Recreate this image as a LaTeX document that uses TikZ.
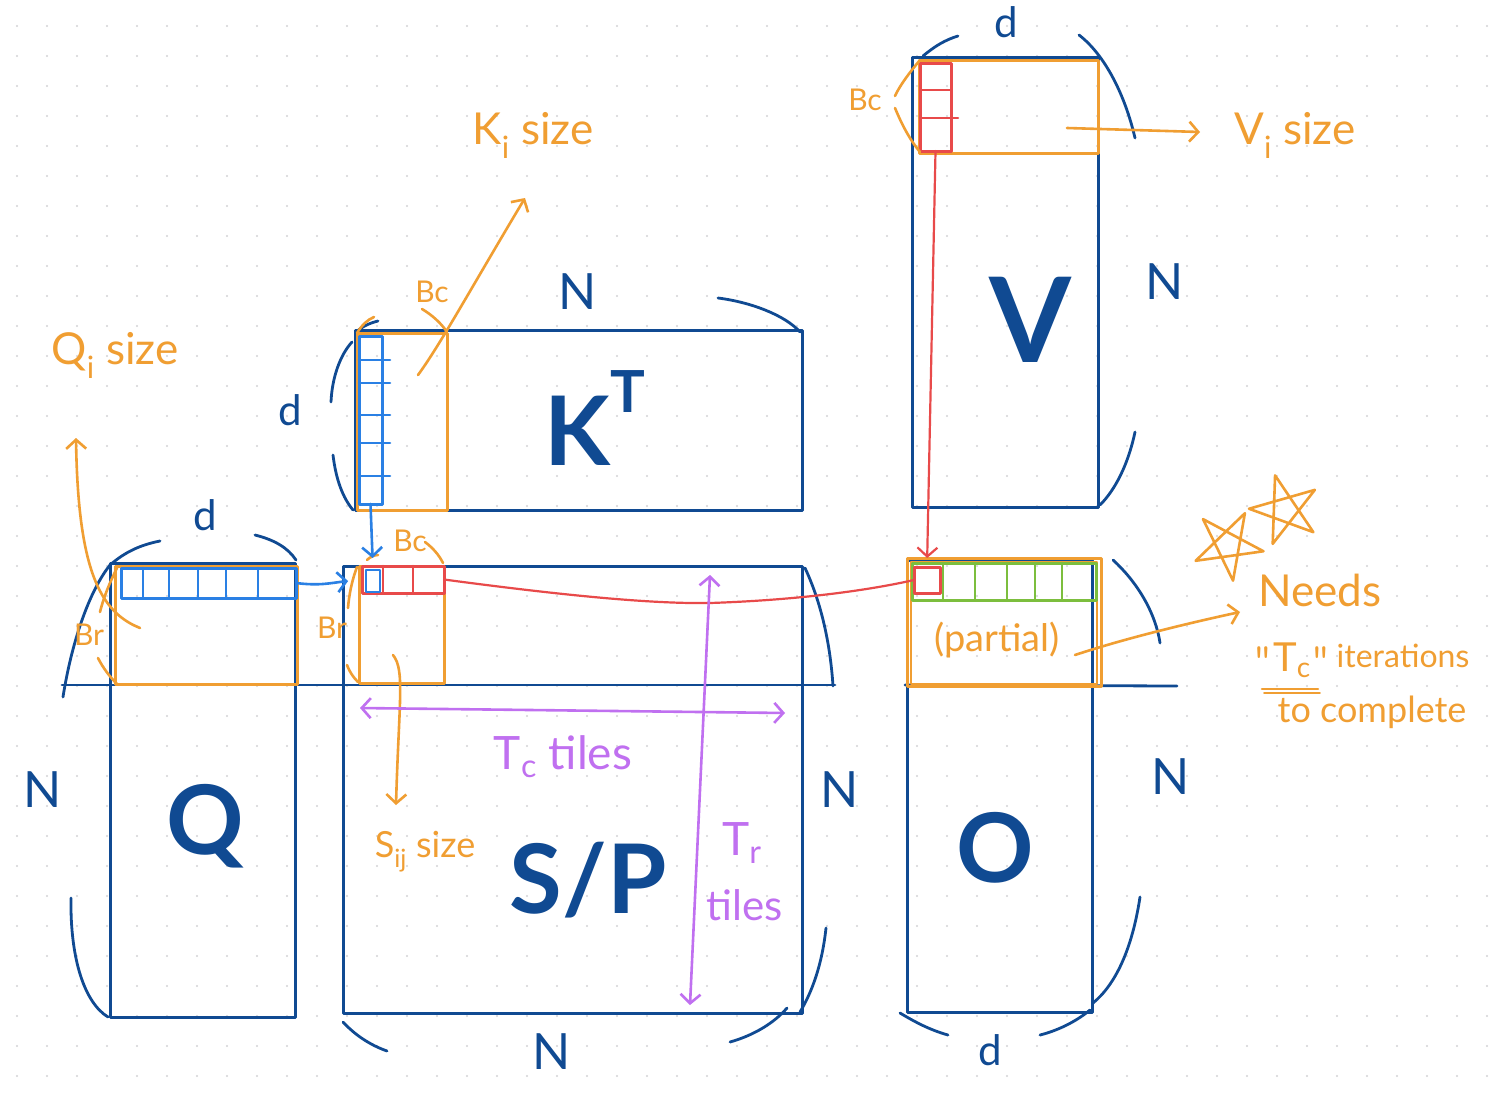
\documentclass[tikz,border=0pt]{standalone}
\usepackage{fontspec}
\setmainfont{Lato}
\usetikzlibrary{arrows.meta}
\definecolor{dblue}{RGB}{16,74,146}
\definecolor{orng}{RGB}{240,158,50}
\definecolor{bblue}{RGB}{42,128,228}
\definecolor{rred}{RGB}{232,74,74}
\definecolor{ggreen}{RGB}{124,190,62}
\definecolor{ppurple}{RGB}{192,112,240}
\definecolor{dotgray}{RGB}{210,210,214}
\begin{document}
\begin{tikzpicture}[x=1pt,y=-1pt,line cap=round,line join=round,
  box/.style={rectangle,inner sep=0pt,outer sep=0pt,anchor=north west,line width=3pt},
  mat/.style={box,draw=dblue},
  obox/.style={box,draw=orng},
  bstrip/.style={box,draw=bblue},
  rstrip/.style={box,draw=rred},
  gstrip/.style={box,draw=ggreen},
  dline/.style={draw=dblue,line width=2.8pt},
  oline/.style={draw=orng,line width=2.6pt},
  bline/.style={draw=bblue,line width=2.6pt},
  rline/.style={draw=rred,line width=2.2pt},
  gline/.style={draw=ggreen,line width=2.6pt},
  pline/.style={draw=ppurple,line width=2.6pt},
  barb/.style={-{Straight Barb[length=9pt,width=20pt]}},
  dbarb/.style={{Straight Barb[length=9pt,width=20pt]}-{Straight Barb[length=9pt,width=20pt]}},
  olabel/.style={text=orng,inner sep=0pt,font=\fontsize{44}{50}\selectfont},
  osmall/.style={text=orng,inner sep=0pt,font=\fontsize{30}{34}\selectfont},
  plabel/.style={text=ppurple,inner sep=0pt,font=\fontsize{46}{50}\selectfont},
  dimlabel/.style={text=dblue,inner sep=0pt,font=\fontsize{50}{54}\selectfont},
  biglabel/.style={text=dblue,inner sep=0pt,font=\fontsize{96}{100}\selectfont\bfseries}
]
% background
\fill[white] (0,0) rectangle (1498,1092);
\useasboundingbox (0,0) rectangle (1498,1092);
\foreach \x in {17,47,...,1497} \foreach \y in {26,56,...,1090} \fill[dotgray] (\x,\y) circle (1.1pt);

% ---------- main matrices ----------
\node[mat,minimum width=185pt,minimum height=454pt] (Q) at (110,563) {};
\node[mat,minimum width=447pt,minimum height=180pt] (KT) at (355,330) {};
\node[mat,minimum width=459pt,minimum height=447pt] (SP) at (343,566) {};
\node[mat,minimum width=186pt,minimum height=450pt] (V) at (912,57) {};
\node[mat,minimum width=185pt,minimum height=452pt] (O) at (907,560) {};
\draw[dline] (62,685) -- (835,685);
\draw[dline] (905,685) -- (1177,686);

% ---------- orange block boxes ----------
\node[obox,minimum width=182pt,minimum height=118pt] (Qi) at (115,566) {};
\node[obox,minimum width=90pt,minimum height=177pt] (Ki) at (357,333) {};
\node[obox,minimum width=85pt,minimum height=117pt] (Sij) at (359,566) {};
\node[obox,minimum width=179pt,minimum height=93pt] (Vi) at (919,60) {};
\node[obox,minimum width=194pt,minimum height=128pt] (Opart) at (907,558) {};
\node[obox,minimum width=186pt,minimum height=122pt,line width=1.8pt] (Opart2) at (911,562) {};

% ---------- strips ----------
\node[bstrip,minimum width=175pt,minimum height=30pt] (qstrip) at (121,568) {};
\foreach \x in {143,169,198,226,258} \draw[bline] (\x,568) -- (\x,598);
\node[bstrip,minimum width=23pt,minimum height=168pt] (kstrip) at (359,336) {};
\foreach \y in {360,383,415,443,476} \draw[bline] (359,\y) -- (390,\y);
\node[rstrip,minimum width=82pt,minimum height=27pt] (sred) at (362,566) {};
\foreach \x in {383,413} \draw[rline,line width=2.6pt] (\x,566) -- (\x,593);
\node[bstrip,minimum width=14pt,minimum height=22pt,line width=2.6pt] (sblue) at (366,570) {};
\node[rstrip,minimum width=31pt,minimum height=88pt] (vred) at (920,63) {};
\draw[rline,line width=2.6pt] (920,90) -- (951,90);
\draw[rline,line width=2.6pt] (920,118) -- (958,118);
\node[gstrip,minimum width=184pt,minimum height=37pt] (ogreen) at (912,563) {};
\foreach \x in {943,975,1007,1035,1062} \draw[gline] (\x,563) -- (\x,600);
\node[rstrip,minimum width=26pt,minimum height=26pt] (ored) at (914,567) {};

% ---------- dimension brackets (dark blue) ----------
\draw[dline] (110,565) .. controls (125,552) and (140,545) .. (160,541);
\draw[dline] (255,535) .. controls (275,540) and (288,548) .. (296,560);
\draw[dline] (63,697) .. controls (72,640) and (90,590) .. (110,565);
\draw[dline] (71,898) .. controls (70,960) and (85,1003) .. (108,1017);
\draw[dline] (352,342) .. controls (340,355) and (332,378) .. (331,402);
\draw[dline] (333,455) .. controls (336,480) and (343,498) .. (353,510);
\draw[dline] (356,332) .. controls (363,326) and (370,323) .. (378,321);
\draw[dline] (718,298) .. controls (750,302) and (785,315) .. (800,332);
\draw[dline] (923,56) .. controls (935,46) and (945,40) .. (958,36);
\draw[dline] (1079,35) .. controls (1105,55) and (1125,95) .. (1135,138);
\draw[dline] (1135,432) .. controls (1128,465) and (1115,490) .. (1100,505);
\draw[dline] (1113,560) .. controls (1135,580) and (1155,610) .. (1160,643);
\draw[dline] (1140,897) .. controls (1132,950) and (1115,985) .. (1093,1003);
\draw[dline] (900,1013) .. controls (915,1022) and (930,1030) .. (948,1035);
\draw[dline] (1040,1035) .. controls (1060,1030) and (1078,1020) .. (1090,1010);
\draw[dline] (805,568) .. controls (820,600) and (830,640) .. (833,686);
\draw[dline] (826,928) .. controls (822,965) and (812,992) .. (800,1012);
\draw[dline] (343,1022) .. controls (355,1035) and (370,1045) .. (387,1051);
\draw[dline] (730,1042) .. controls (755,1035) and (775,1022) .. (787,1008);

\node[dimlabel] (nq) at (43,790) {N};
\node[dimlabel] (nk) at (578,292) {N};
\node[dimlabel] (nv) at (1165,282) {N};
\node[dimlabel] (ns) at (840,790) {N};
\node[dimlabel] (no) at (1171,777) {N};
\node[dimlabel] (nb) at (552,1052) {N};
\node[dimlabel,font=\fontsize{42}{46}\selectfont] (dq) at (205,515) {d};
\node[dimlabel,font=\fontsize{42}{46}\selectfont] (dk) at (290,410) {d};
\node[dimlabel,font=\fontsize{42}{46}\selectfont] (dv) at (1006,22) {d};
\node[dimlabel,font=\fontsize{42}{46}\selectfont] (do) at (990,1050) {d};

% ---------- orange brackets for Br / Bc ----------
\draw[oline] (117,568) .. controls (110,582) and (104,596) .. (100,612);
\draw[oline] (98,658) .. controls (103,668) and (110,677) .. (117,684);
\draw[oline] (357,567) .. controls (352,580) and (349,595) .. (348,608);
\draw[oline] (347,665) .. controls (350,673) and (354,678) .. (358,682);
\draw[oline] (367,560) .. controls (370,557) and (374,555) .. (378,555);
\draw[oline] (425,542) .. controls (433,548) and (439,555) .. (443,563);
\draw[oline] (357,333) .. controls (362,325) and (367,320) .. (374,317);
\draw[oline] (422,309) .. controls (432,315) and (441,323) .. (447,332);
\draw[oline] (920,60) .. controls (910,72) and (900,85) .. (895,96);
\draw[oline] (895,108) .. controls (902,125) and (910,140) .. (920,152);

\node[osmall] (bcK) at (432,292) {Bc};
\node[osmall] (bcS) at (410,541) {Bc};
\node[osmall] (bcV) at (865,100) {Bc};
\node[osmall] (brS) at (332,628) {Br};
\node[osmall] (brQ) at (89,635) {Br};

% ---------- labels ----------
\node[olabel] (kisize) at (533,135) {K\textsubscript{i} size};
\node[olabel] (qisize) at (115,355) {Q\textsubscript{i} size};
\node[olabel] (visize) at (1295,135) {V\textsubscript{i} size};
\node[olabel,font=\fontsize{36}{40}\selectfont] (sijsize) at (425,852) {S\textsubscript{ij} size};
\node[olabel,font=\fontsize{38}{42}\selectfont] (partial) at (997,640) {(partial)};
\node[olabel,font=\fontsize{44}{48}\selectfont] (needs) at (1320,590) {Needs};
\node[olabel,font=\fontsize{40}{44}\selectfont] (tcq) at (1292,660) {{\ttfamily "}T\textsubscript{c}{\ttfamily "}};
\node[olabel,font=\fontsize{32}{36}\selectfont] (iter) at (1403,656) {iterations};
\node[olabel,font=\fontsize{36}{40}\selectfont] (tocomp) at (1372,712) {to complete};
\draw[oline] (1262,689) -- (1318,689);
\draw[oline,line width=1.6pt] (1264,693) -- (1320,693);

\node[plabel] (tctiles) at (563,757) {T\textsubscript{c} tiles};
\node[plabel] (tr) at (742,843) {T\textsubscript{r}};
\node[plabel,font=\fontsize{42}{46}\selectfont] (trtiles) at (745,905) {tiles};

\node[biglabel] (lq) at (205,826) {Q};
\node[biglabel] (lk) at (595,418) {K\raisebox{0.55em}{\fontsize{58}{58}\selectfont T}};
\node[biglabel,font=\fontsize{118}{122}\selectfont\bfseries] (lv) at (1030,320) {V};
\node[biglabel] (lsp) at (588,880) {S/P};
\node[biglabel] (lo) at (995,848) {O};

% ---------- stars ----------
\draw[oline,shift={(1228,545)},rotate=8] (90:36) -- (234:36) -- (18:36) -- (162:36) -- (306:36) -- cycle;
\draw[oline,shift={(1285,510)},rotate=-20] (90:36) -- (234:36) -- (18:36) -- (162:36) -- (306:36) -- cycle;

% ---------- connectors ----------
\coordinate (qiIn) at (140,628);
\coordinate (qiTip) at (76,438);
\draw[oline,barb] (qiIn) .. controls (100,612) and (78,570) .. (qiTip);
\coordinate (kiIn) at (418,375);
\coordinate (kiTip) at (525,198);
\draw[oline,barb] (kiIn) .. controls (440,345) and (470,290) .. (kiTip);
\coordinate (viIn) at (1067,128);
\coordinate (viTip) at (1200,132);
\draw[oline,barb] (viIn) -- (viTip);
\coordinate (sijIn) at (393,655);
\coordinate (sijTip) at (396,805);
\draw[oline,barb] (sijIn) .. controls (405,670) and (399,700) .. (sijTip);
\coordinate (oIn) at (1075,655);
\coordinate (oTip) at (1240,612);
\draw[oline,barb] (oIn) .. controls (1120,640) and (1180,625) .. (oTip);

\draw[bline,barb,shorten >=12pt] (kstrip.south) -- (sblue.north);
\draw[bline,barb,shorten >=14pt] (qstrip.east) .. controls (320,586) and (330,583) .. (sred.west);
\draw[rline] (sred.east) .. controls (560,595) and (650,604) .. (710,603) .. controls (800,600) and (870,590) .. (ored.west);
\draw[rline,barb,shorten >=9pt] (vred.south) -- (ored.north);

\coordinate (tcL) at (360,708);
\coordinate (tcR) at (785,713);
\draw[pline,dbarb] (tcL) -- (tcR);
\coordinate (trT) at (710,575);
\coordinate (trB) at (690,1005);
\draw[pline,dbarb] (trT) -- (trB);
\end{tikzpicture}
\end{document}
